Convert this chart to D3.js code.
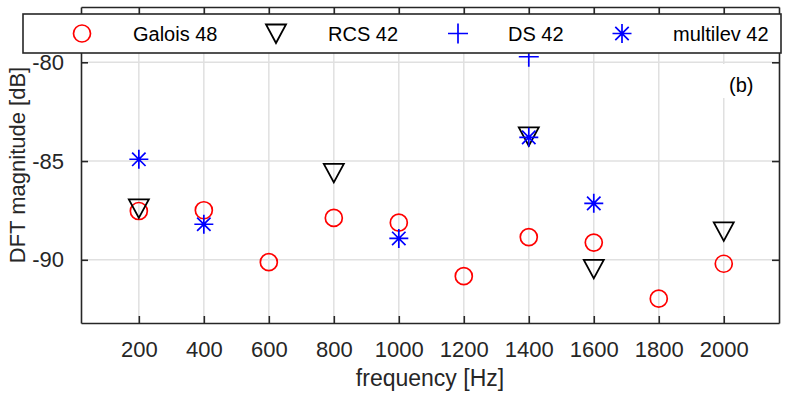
<!DOCTYPE html>
<html>
<head>
<meta charset="utf-8">
<script src="https://cdn.jsdelivr.net/npm/d3@7"></script>
<style>
    body { margin: 0; background: #fff; }
    svg { font-family: "Liberation Sans", Arial, Helvetica, sans-serif; }
</style>
</head>
<body>
<div id="chart"></div>
<script>
// series values
const galoisFreq = [200, 400, 600, 800, 1000, 1200, 1400, 1600, 1800, 2000];
const galoisDB = [-87.53, -87.49, -90.12, -87.88, -88.12, -90.83, -88.85, -89.13, -91.97, -90.2];

const rcsFreq = [200, 800, 1400, 1600, 2000];
const rcsDB = [-87.4, -85.6, -83.75, -90.46, -88.56];

const dsFreq = [1400];
const dsDB = [-79.72];

const multiFreq = [200, 400, 1000, 1400, 1600];
const multiDB = [-84.91, -88.2, -88.92, -83.8, -87.14];

const xTicks = [200, 400, 600, 800, 1000, 1200, 1400, 1600, 1800, 2000];
const yTicks = [-90, -85, -80];
const legendNames = ["Galois 48", "RCS 42", "DS 42", "multilev 42"];

const margin = { top: 7, right: 10, bottom: 72, left: 81 },
    width = 789 - margin.left - margin.right,
    height = 395 - margin.top - margin.bottom;

const svg = d3.select("#chart")
    .append("svg")
    .attr("width", 789)
    .attr("height", 395);

const g = svg.append("g")
    .attr("transform", `translate(${margin.left},${margin.top})`);

const x = d3.scaleLinear().domain([22, 2170]).range([0, width]);
const y = d3.scaleLinear().domain([-93.2, -77.2]).range([height, 0]);

const axisColor = "#262626";
const gridColor = "#e0e0e0";

// grid
g.append("g").selectAll("line.vg")
    .data(xTicks).join("line")
    .attr("x1", d => x(d)).attr("x2", d => x(d))
    .attr("y1", 0).attr("y2", height)
    .attr("stroke", gridColor).attr("stroke-width", 1.5);
g.append("g").selectAll("line.hg")
    .data(yTicks).join("line")
    .attr("x1", 0).attr("x2", width)
    .attr("y1", d => y(d)).attr("y2", d => y(d))
    .attr("stroke", gridColor).attr("stroke-width", 1.5);

// axes (MATLAB box style, ticks inside)
function styleAxis(sel) {
    sel.select(".domain").attr("stroke", axisColor).attr("stroke-width", 1.6);
    sel.selectAll(".tick line").attr("stroke", axisColor).attr("stroke-width", 1.6);
    sel.selectAll("text").attr("fill", axisColor).style("font-size", "22px");
}

g.append("g")
    .attr("transform", `translate(0,${height})`)
    .call(d3.axisBottom(x).tickValues(xTicks).tickSizeInner(-7).tickSizeOuter(0).tickPadding(18)
        .tickFormat(d3.format("d")))
    .call(styleAxis);
g.append("g")
    .call(d3.axisTop(x).tickValues(xTicks).tickSizeInner(-7).tickSizeOuter(0).tickFormat(""))
    .call(styleAxis);
g.append("g")
    .call(d3.axisLeft(y).tickValues(yTicks).tickSizeInner(-7).tickSizeOuter(0).tickPadding(17)
        .tickFormat(d => String(d)))
    .call(styleAxis);
g.append("g")
    .attr("transform", `translate(${width},0)`)
    .call(d3.axisRight(y).tickValues(yTicks).tickSizeInner(-7).tickSizeOuter(0).tickFormat(""))
    .call(styleAxis);

// marker shapes
function drawMarker(sel, kind, color) {
    if (kind === "circle") {
        sel.append("circle").attr("r", 8.5)
            .attr("fill", "none").attr("stroke", color).attr("stroke-width", 1.7);
    } else if (kind === "tri") {
        sel.append("path").attr("d", "M-10,-9L10,-9L0,9.5Z")
            .attr("fill", "none").attr("stroke", color).attr("stroke-width", 1.8)
            .attr("stroke-linejoin", "miter");
    } else if (kind === "plus") {
        sel.append("path").attr("d", "M-10,0H10M0,-10V10")
            .attr("fill", "none").attr("stroke", color).attr("stroke-width", 1.7);
    } else if (kind === "star") {
        const r = 9.5, q = r * Math.SQRT1_2;
        sel.append("path")
            .attr("d", `M${-r},0H${r}M0,${-r}V${r}M${-q},${-q}L${q},${q}M${-q},${q}L${q},${-q}`)
            .attr("fill", "none").attr("stroke", color).attr("stroke-width", 1.7);
    }
}

const series = [
    { freq: galoisFreq, db: galoisDB, kind: "circle", color: "#ff0000" },
    { freq: rcsFreq, db: rcsDB, kind: "tri", color: "#000000" },
    { freq: dsFreq, db: dsDB, kind: "plus", color: "#0000ff" },
    { freq: multiFreq, db: multiDB, kind: "star", color: "#0000ff" }
];

series.forEach(s => {
    g.append("g").selectAll("g")
        .data(d3.zip(s.freq, s.db))
        .join("g")
        .attr("transform", d => `translate(${x(d[0])},${y(d[1])})`)
        .each(function () { drawMarker(d3.select(this), s.kind, s.color); });
});

// "(b)" label with white box
g.append("rect")
    .attr("x", 633).attr("y", 57).attr("width", 62).attr("height", 34)
    .attr("fill", "#fff");
g.append("text")
    .attr("x", 648).attr("y", 85)
    .style("font-size", "20px")
    .attr("fill", "#000")
    .text("(b)");

// axis labels
svg.append("text")
    .attr("x", margin.left + width / 2)
    .attr("y", 386)
    .attr("text-anchor", "middle")
    .attr("fill", axisColor)
    .style("font-size", "23px")
    .text("frequency [Hz]");

svg.append("text")
    .attr("transform", `translate(25,${margin.top + height / 2}) rotate(-90)`)
    .attr("text-anchor", "middle")
    .attr("fill", axisColor)
    .style("font-size", "22px")
    .text("DFT magnitude [dB]");

// legend
const legend = svg.append("g");
legend.append("rect")
    .attr("x", 23).attr("y", 14).attr("width", 758).attr("height", 39)
    .attr("fill", "#fff").attr("stroke", axisColor).attr("stroke-width", 1.6);

const legendMarkX = [82, 276, 458, 622];
const legendTextX = [133, 328, 508, 673];
series.forEach((s, i) => {
    const m = legend.append("g").attr("transform", `translate(${legendMarkX[i]},33.5)`);
    drawMarker(m, s.kind, s.color);
    legend.append("text")
        .attr("x", legendTextX[i]).attr("y", 40.5)
        .attr("fill", "#000")
        .style("font-size", "20px")
        .text(legendNames[i]);
});
</script>
</body>
</html>
